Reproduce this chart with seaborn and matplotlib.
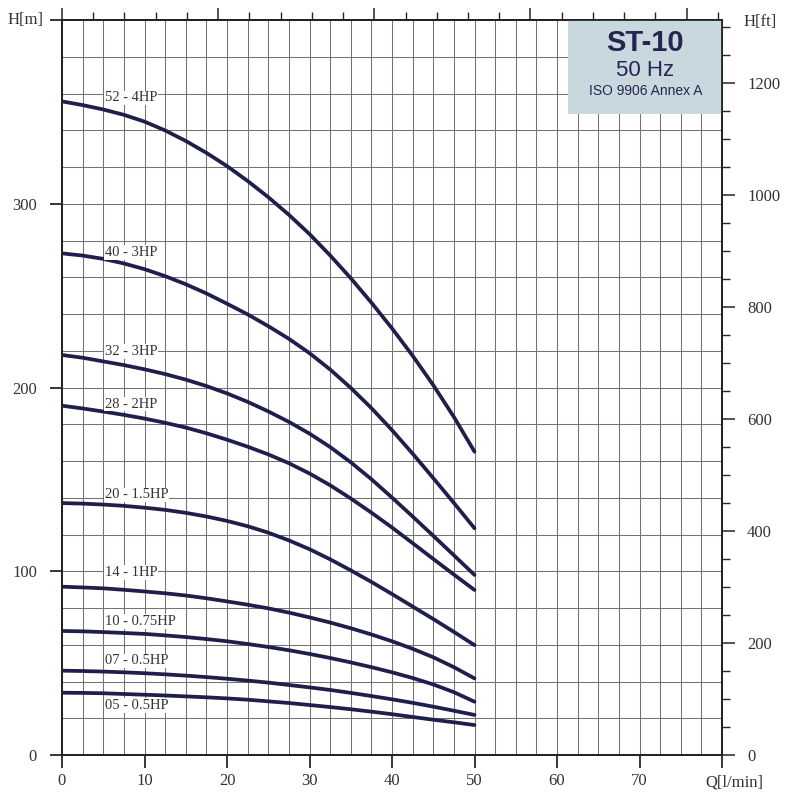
import pandas as pd
import matplotlib.pyplot as plt
from matplotlib.patches import Rectangle
from matplotlib.ticker import MultipleLocator, NullFormatter
import seaborn as sns

sns.set_style("ticks")
plt.rcParams['font.family'] = ['Liberation Serif', 'DejaVu Serif']

# Flow [l/min] and head [m] per pump model at each grid line
flow = [0, 2.5, 5, 7.5, 10, 12.5, 15, 17.5, 20, 22.5, 25,
        27.5, 30, 32.5, 35, 37.5, 40, 42.5, 45, 47.5, 50]
models = ["52 - 4HP", "40 - 3HP", "32 - 3HP", "28 - 2HP", "20 - 1.5HP",
          "14 - 1HP", "10 - 0.75HP", "07 - 0.5HP", "05 - 0.5HP"]
head_52 = [355.7, 353.7, 351.3, 348.4, 344.7, 339.9, 334.2, 327.7, 320.5, 312.4, 303.6,
           294.0, 283.5, 271.9, 259.5, 246.2, 232.2, 217.3, 201.3, 184.0, 165.1]
head_40 = [273.0, 271.8, 270.0, 267.5, 264.4, 260.6, 256.2, 251.2, 245.6, 239.8, 233.4,
           226.5, 218.7, 209.8, 199.8, 188.8, 176.8, 164.0, 150.7, 137.2, 123.4]
head_32 = [217.7, 216.2, 214.2, 212.2, 209.9, 207.3, 204.3, 200.8, 196.8, 192.2, 187.0,
           181.3, 174.9, 167.6, 159.3, 150.1, 140.1, 129.8, 119.3, 108.7, 98.0]
head_28 = [190.1, 188.6, 186.9, 185.1, 183.1, 180.8, 178.2, 175.1, 171.6, 167.8, 163.6,
           158.8, 153.2, 146.8, 139.6, 131.9, 123.8, 115.3, 106.7, 98.2, 89.8]
head_20 = [137.1, 136.8, 136.3, 135.6, 134.6, 133.4, 131.8, 129.8, 127.4, 124.5, 121.0,
           116.8, 112.0, 106.5, 100.5, 94.2, 87.6, 80.8, 74.0, 67.0, 59.8]
head_14 = [91.6, 91.2, 90.7, 89.9, 89.0, 88.0, 86.8, 85.3, 83.6, 81.8, 79.8,
           77.5, 74.9, 72.1, 69.0, 65.6, 61.9, 57.8, 53.2, 47.8, 41.7]
head_10 = [67.5, 67.3, 66.9, 66.4, 65.9, 65.1, 64.2, 63.1, 61.9, 60.4, 58.8,
           57.0, 55.0, 52.8, 50.4, 47.8, 45.0, 41.9, 38.4, 34.2, 29.0]
head_07 = [45.9, 45.7, 45.4, 45.0, 44.5, 43.9, 43.2, 42.4, 41.5, 40.5, 39.4,
           38.1, 36.8, 35.4, 33.8, 32.1, 30.3, 28.4, 26.3, 24.1, 21.8]
head_05 = [33.9, 33.8, 33.6, 33.2, 32.8, 32.4, 31.9, 31.4, 30.8, 30.1, 29.2,
           28.3, 27.2, 26.1, 24.9, 23.6, 22.2, 20.7, 19.2, 17.8, 16.3]
heads = [head_52, head_40, head_32, head_28, head_20,
         head_14, head_10, head_07, head_05]
label_h = [357.6, 273.4, 219.5, 191, 141.5, 99.2, 72.5, 51.2, 26.9]

x_ticks = [0, 10, 20, 30, 40, 50, 60, 70, 80]
x_labels = ["0", "10", "20", "30", "40", "50", "60", "70", ""]
y_ticks = [0, 100, 200, 300, 400]
y_labels = ["0", "100", "200", "300", ""]

NAVY = "#1f1f4d"
TXT = "#333333"
LPM_PER_GPM = 3.78541
M_PER_FT = 0.3048

rows = []
for name, h in zip(models, heads):
    for q, v in zip(flow, h):
        rows.append({"model": name, "Q": q, "H": v})
df = pd.DataFrame(rows)

fig = plt.figure(figsize=(8, 8), dpi=100)
ax = fig.add_axes([0.0775, 0.05625, 0.825, 0.91875])

sns.lineplot(data=df, x="Q", y="H", units="model", estimator=None,
             color=NAVY, lw=2.7, sort=False, legend=False, ax=ax,
             solid_capstyle="round", solid_joinstyle="round", zorder=3)

ax.set_xlim(0, 80)
ax.set_ylim(0, 400)
ax.set_xticks(x_ticks, labels=x_labels)
ax.set_yticks(y_ticks, labels=y_labels)
ax.xaxis.set_minor_locator(MultipleLocator(2.5))
ax.yaxis.set_minor_locator(MultipleLocator(20))
ax.set_axisbelow(True)
ax.grid(which="both", color="#737373", lw=0.75)
ax.set_xlabel("")
ax.set_ylabel("")
ax.tick_params(which="major", direction="out", length=9, width=1.1,
               labelsize=12, labelcolor=TXT, color="black",
               bottom=True, left=True)
ax.tick_params(which="minor", length=0)
ax.tick_params(axis="x", pad=4)
ax.tick_params(axis="y", pad=9)
for sp in ax.spines.values():
    sp.set_visible(True)
    sp.set_linewidth(1.3)
    sp.set_color("black")

# right axis in feet
ax2 = ax.twinx()
ax2.set_ylim(0, 400 / M_PER_FT)
ax2.yaxis.set_major_locator(MultipleLocator(200))
ax2.yaxis.set_minor_locator(MultipleLocator(50))
ax2.tick_params(which="major", direction="out", length=9, width=1.1,
                labelsize=12, labelcolor=TXT, pad=9, right=True)
ax2.tick_params(which="minor", direction="out", length=5.5, width=1, right=True)
ax2.grid(False)
for sp in ax2.spines.values():
    sp.set_linewidth(1.3)

# top axis in US gpm, ticks only
sec = ax.secondary_xaxis("top", functions=(lambda q: q / LPM_PER_GPM,
                                           lambda g: g * LPM_PER_GPM))
sec.xaxis.set_major_locator(MultipleLocator(5))
sec.xaxis.set_minor_locator(MultipleLocator(1))
sec.xaxis.set_major_formatter(NullFormatter())
sec.tick_params(which="major", direction="out", length=9, width=1.1)
sec.tick_params(which="minor", direction="out", length=5.5, width=1)
sec.spines["top"].set_linewidth(1.3)

# curve labels
for name, y in zip(models, label_h):
    ax.text(5.2, y, name, fontsize=10.5, color=TXT, ha="left", va="center",
            zorder=4, bbox=dict(fc="white", ec="none", pad=0.6))

# axis unit labels
ax.text(-2.3, 400, "H[m]", fontsize=12, color=TXT, ha="right", va="center",
        clip_on=False)
ax.text(82.6, 399, "H[ft]", fontsize=12, color=TXT, ha="left", va="center",
        clip_on=False)
ax.text(81.5, -14.7, "Q[l/min]", fontsize=12, color=TXT, ha="center",
        va="center", clip_on=False)

# header box
ax.add_patch(Rectangle((61.3, 348.8), 18.7, 51.2, fc="#c8d8de", ec="none",
                       zorder=5))
ax.text(70.7, 387.3, "ST-10", fontsize=21, fontweight="bold", color="#252550",
        family="Liberation Sans", ha="center", va="center", zorder=6)
ax.text(70.7, 372.4, "50 Hz", fontsize=16, color="#252550",
        family="Liberation Sans", ha="center", va="center", zorder=6)
ax.text(70.7, 361.3, "ISO 9906 Annex A", fontsize=10, color="#252550",
        family="Liberation Sans", ha="center", va="center", zorder=6)

fig.savefig("out.png", dpi=100)
